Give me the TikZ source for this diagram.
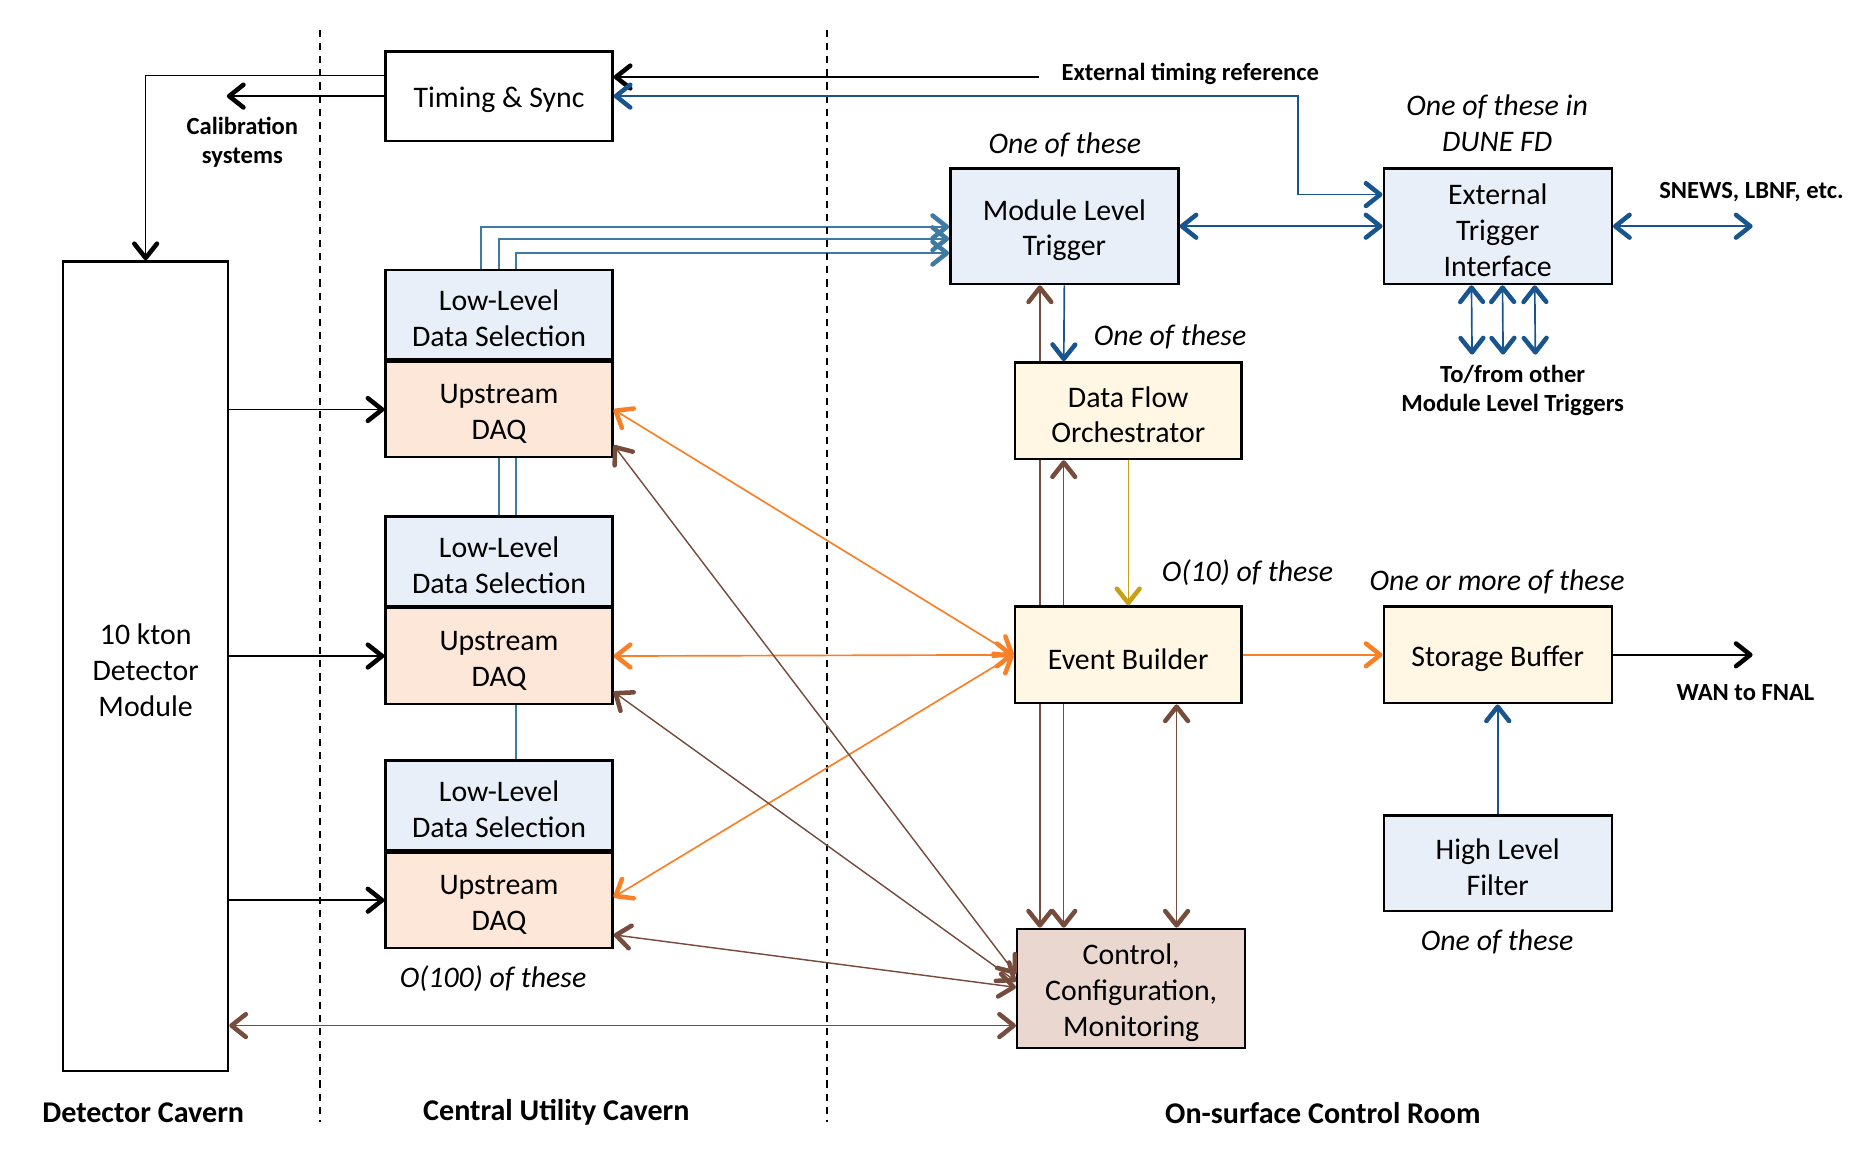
\documentclass[tikz,border=0pt]{standalone}
\usepackage{fontspec}
\setmainfont{Carlito}
\usetikzlibrary{shapes,arrows.meta,positioning,calc,backgrounds}

\definecolor{selblue}{RGB}{232,239,248}
\definecolor{daqpeach}{RGB}{253,231,216}
\definecolor{flowcream}{RGB}{255,246,228}
\definecolor{ctrlpink}{RGB}{234,216,208}
\definecolor{trigblue}{RGB}{24,84,142}
\definecolor{steelblue}{RGB}{62,122,162}
\definecolor{daqorange}{RGB}{250,128,40}
\definecolor{ctrlbrown}{RGB}{118,76,60}
\definecolor{flowgold}{RGB}{200,160,20}

\tikzstyle{box} = [rectangle, draw, line width=1pt, text width=95pt, align=flush center, inner sep=0pt, text height=12pt, font=\fontsize{12.5}{15}\selectfont]
\tikzstyle{trig} = [box, fill=selblue, minimum width=95.5pt, minimum height=48.5pt]
\tikzstyle{lowsel} = [box, fill=selblue, minimum width=95pt, minimum height=37.5pt]
\tikzstyle{updaq} = [box, fill=daqpeach, minimum width=95pt, minimum height=40pt]
\tikzstyle{flow} = [box, fill=flowcream, minimum width=95pt, minimum height=40.5pt]
\tikzstyle{note} = [font=\fontsize{12.5}{15}\selectfont\itshape, align=center]
\tikzstyle{ext} = [font=\fontsize{10.3}{12}\selectfont\bfseries, align=center]
\tikzstyle{area} = [font=\fontsize{12.6}{15}\selectfont\bfseries]
\tikzstyle{border} = [line width=0.8pt, dash pattern=on 3pt off 2.5pt]
\tikzstyle{plain} = [line width=0.6pt]
\tikzstyle{blueline} = [draw=trigblue, line width=0.7pt]
\tikzstyle{llline} = [draw=steelblue, line width=0.7pt]
\tikzstyle{orangeline} = [draw=daqorange, line width=0.7pt]
\tikzstyle{brownline} = [draw=ctrlbrown, line width=0.6pt]
\tikzstyle{goldline} = [draw=flowgold, line width=0.6pt]

\begin{document}
\begin{tikzpicture}[x=0.5pt, y=-0.5pt, >={Straight Barb[length=6pt,width=9.5pt,line width=1.9pt,round]}]
   \useasboundingbox (0,0) rectangle (1568,975);
   % area borders
   \draw[border] (268,25) -- (268,940);
   \draw[border] (693,25) -- (693,940);

   % nodes
   \node[box, text width=69pt, minimum height=339pt] (det) at (122,558) {10 kton\\Detector\\Module};
   \node[box, minimum height=37.5pt] (ts) at (418,80.5) {Timing \& Sync};
   \node[lowsel] (lls1) at (418,263.5) {Low-Level\\Data Selection};
   \node[updaq] (up1) [below=0pt of lls1] {Upstream\\DAQ};
   \node[lowsel] (lls2) at (418,470) {Low-Level\\Data Selection};
   \node[updaq] (up2) [below=0pt of lls2] {Upstream\\DAQ};
   \node[lowsel] (lls3) at (418,674.5) {Low-Level\\Data Selection};
   \node[updaq] (up3) [below=0pt of lls3] {Upstream\\DAQ};
   \node[trig] (mlt) at (891.5,189.5) {Module Level\\Trigger};
   \node[trig] (eti) at (1254.5,189.5) {External\\Trigger\\Interface};
   \node[flow] (dfo) at (945,344) {Data Flow\\Orchestrator};
   \node[flow] (eb) at (945,548.5) {Event Builder};
   \node[flow, minimum width=95.5pt] (sb) at (1254.5,548.5) {Storage Buffer};
   \node[box, fill=selblue, minimum width=95.5pt, minimum height=40pt] (hlf) at (1254.5,723) {High Level\\Filter};
   \node[box, fill=ctrlpink, minimum width=95.5pt, minimum height=50pt] (ccm) at (947.5,828) {Control,\\Configuration,\\Monitoring};

   % labels
   \node[ext] at (203,119) {Calibration\\systems};
   \node[ext] at (997,62) {External timing reference};
   \node[ext] at (1467,161) {SNEWS, LBNF, etc.};
   \node[ext] at (1267,327) {To/from other\\Module Level Triggers};
   \node[ext] at (1462,580) {WAN to FNAL};
   \node[note] at (892,121) {One of these};
   \node[note] at (1254,103) {One of these in\\DUNE FD};
   \node[note] at (980,282) {One of these};
   \node[note] at (1045,480) {O(10) of these};
   \node[note] at (1254,487) {One or more of these};
   \node[note] at (1254,789) {One of these};
   \node[note] at (413,820) {O(100) of these};
   \node[area] at (120,932) {Detector Cavern};
   \node[area] at (466,932) {Central Utility Cavern};
   \node[area] at (1108,932) {On-surface Control Room};

   % free ends
   \coordinate (calib) at (190,80.5);
   \coordinate (extref) at (870,64.5);
   \coordinate (snews) at (1468,189.5);
   \coordinate (others) at (1255,297);
   \coordinate (wan) at (1468,548.5);

   % edges
   \draw[plain,->] ($(ts.west)+(0,-17.5)$) -| (det.north);
   \draw[plain,->] (ts.west) -- (calib);
   \draw[plain,->] (extref) -- ($(ts.east)+(0,-16)$);
   \draw[blueline,<->] (ts.east) -| ($(eti.west)+(-71,-26.5)$) -- ($(eti.west)+(0,-26.5)$);
   \draw[blueline,<->] (mlt.east) -- (eti.west);
   \draw[blueline,<->] (eti.east) -- (snews);
   \foreach \dx in {-22,4,31}
      \draw[blueline,<->] ($(eti.south)+(\dx,0)$) -- ($(others)+(\dx,0)$);
   \foreach \n in {1,2,3}
      \draw[plain,->] (det.east |- up\n.west) -- (up\n.west);
   \begin{pgfonlayer}{background}
      \draw[llline,->] ($(lls1.north)+(-15,0)$) |- ($(mlt.west)+(0,0.5)$);
      \draw[llline,->] (lls2.north) |- ($(mlt.west)+(0,10.5)$);
      \draw[llline,->] ($(lls3.north)+(14,0)$) |- ($(mlt.west)+(0,22.5)$);
      \draw[brownline,<->] ($(mlt.south)+(-20.5,0)$) -- ($(ccm.north)+(-76.5,0)$);
      \draw[brownline,<->] ($(dfo.south)+(-54,0)$) -- ($(ccm.north)+(-56.5,0)$);
   \end{pgfonlayer}
   \draw[blueline,->] (mlt.south) -- ($(dfo.north)+(-54,0)$);
   \draw[goldline,->] (dfo.south) -- (eb.north);
   \draw[brownline,<->] ($(eb.south)+(40.5,0)$) -- ($(ccm.north)+(38,0)$);
   \draw[orangeline,<->] (up1.east) -- (eb.west);
   \draw[orangeline,<->] (up2.east) -- (eb.west);
   \draw[orangeline,<->] ($(up3.east)+(0,-2.5)$) -- (eb.west);
   \draw[orangeline,->] (eb.east) -- (sb.west);
   \draw[plain,->] (sb.east) -- (wan);
   \draw[blueline,->] (hlf.north) -- (sb.south);
   \draw[brownline,<->] ($(up1.east)+(0,30)$) -- ($(ccm.west)+(0,-12)$);
   \draw[brownline,<->] ($(up2.east)+(0,30)$) -- ($(ccm.west)+(0,-6)$);
   \draw[brownline,<->] ($(up3.east)+(0,29)$) -- ($(ccm.west)+(0,-1)$);
   \draw[brownline,<->] ($(det.east)+(0,301)$) -- ($(ccm.west)+(0,31)$);
\end{tikzpicture}
\end{document}
